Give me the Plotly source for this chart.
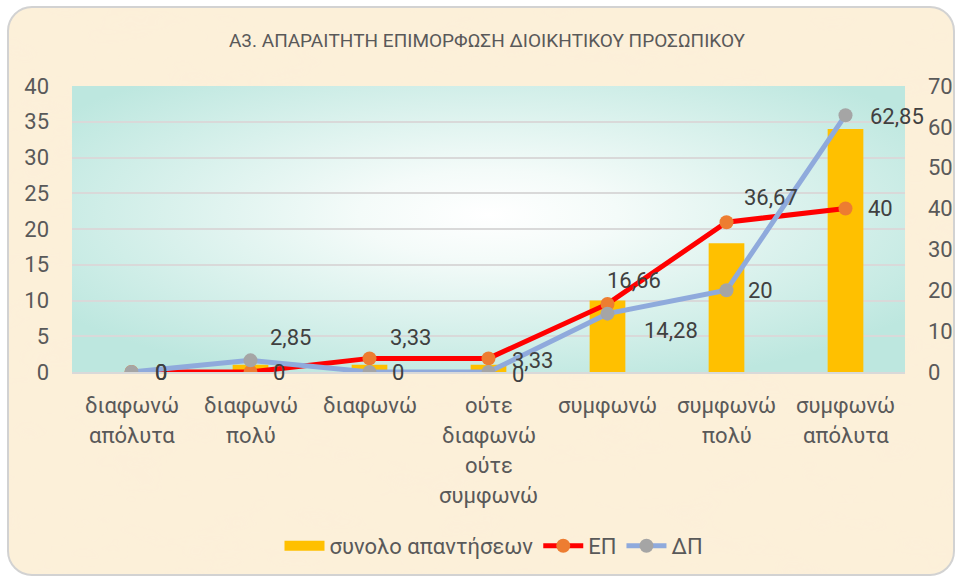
import base64
import plotly.graph_objects as go

# ---- data ----
categories = ["διαφωνώ απόλυτα", "διαφωνώ πολύ", "διαφωνώ", "ούτε διαφωνώ ούτε συμφωνώ",
              "συμφωνώ", "συμφωνώ πολύ", "συμφωνώ απόλυτα"]
category_lines = [["διαφωνώ", "απόλυτα"], ["διαφωνώ", "πολύ"], ["διαφωνώ"],
                  ["ούτε", "διαφωνώ", "ούτε", "συμφωνώ"], ["συμφωνώ"],
                  ["συμφωνώ", "πολύ"], ["συμφωνώ", "απόλυτα"]]
total_answers = [0, 1, 1, 1, 10, 18, 34]
ep_values = [0, 0, 3.33, 3.33, 16.66, 36.67, 40]
dp_values = [0, 2.85, 0, 0, 14.28, 20, 62.85]
title_text = "Α3. ΑΠΑΡΑΙΤΗΤΗ ΕΠΙΜΟΡΦΩΣΗ ΔΙΟΙΚΗΤΙΚΟΥ ΠΡΟΣΩΠΙΚΟΥ"
series_names = ["συνολο απαντήσεων", "ΕΠ", "ΔΠ"]

# label offsets (styling)
ep_shift = [(29, 0), (28, 0), (41, 21), (44, -2), (26, 23), (44, 25), (35, 0)]
dp_shift = [(29, 0), (40, 23), (28, 0), (29, -2), (63, -17), (34, 0), (51, -1)]

W, H = 959, 579
L, R, T, B = 72, 54, 86, 207
PW, PH = W - L - R, H - T - B

FONT = "Roboto"
TXT = "#595959"
LBL = "#404040"


def fmt(v):
    return f"{v:g}".replace(".", ",")


bg_svg = f'''<svg xmlns="http://www.w3.org/2000/svg" width="{W}" height="{H}" viewBox="0 0 {W} {H}">
<defs>
<filter id="n" x="0" y="0" width="100%" height="100%">
<feTurbulence type="fractalNoise" baseFrequency="0.012 0.03" numOctaves="3" seed="7" result="noise"/>
<feColorMatrix in="noise" type="matrix" values="0 0 0 0 0.97  0 0 0 0 0.86  0 0 0 0 0.70  0 0 0 1.2 -0.45" result="c"/>
<feComposite in="c" in2="SourceGraphic" operator="in"/>
</filter>
</defs>
<rect x="8" y="7" width="946" height="568" rx="24" ry="24" fill="#FCF0D9"/>
<rect x="8" y="7" width="946" height="568" rx="24" ry="24" fill="#000" filter="url(#n)"/>
<rect x="8" y="7" width="946" height="568" rx="24" ry="24" fill="none" stroke="#D2D2D2" stroke-width="2"/>
</svg>'''

grad_svg = f'''<svg xmlns="http://www.w3.org/2000/svg" width="{PW}" height="{PH}" viewBox="0 0 {PW} {PH}" preserveAspectRatio="none">
<defs>
<radialGradient id="g" cx="0.5" cy="0.45" r="0.62">
<stop offset="0" stop-color="#FFFFFF"/>
<stop offset="0.25" stop-color="#F4FBF9"/>
<stop offset="1" stop-color="#BDE7DF"/>
</radialGradient>
</defs>
<rect x="0" y="0" width="{PW}" height="{PH}" fill="url(#g)"/>
</svg>'''


def uri(s):
    return "data:image/svg+xml;base64," + base64.b64encode(s.encode("utf-8")).decode()


fig = go.Figure()
fig.add_trace(go.Bar(x=categories, y=total_answers, name=series_names[0], showlegend=False,
                     legendgroup="bars", marker=dict(color="#FFC000", line=dict(width=0)), yaxis="y"))
# legend proxy for the bar series (wide swatch, like the original)
fig.add_trace(go.Scatter(x=[None], y=[None], name=series_names[0], mode="lines", legendgroup="bars",
                         line=dict(color="#FFC000", width=13), yaxis="y", hoverinfo="skip"))
fig.add_trace(go.Scatter(x=categories, y=ep_values, name=series_names[1], mode="lines+markers",
                         line=dict(color="#FF0000", width=5),
                         marker=dict(color="#ED7D31", size=14), yaxis="y2"))
fig.add_trace(go.Scatter(x=categories, y=dp_values, name=series_names[2], mode="lines+markers",
                         line=dict(color="#8FAADC", width=5),
                         marker=dict(color="#A5A5A5", size=14), yaxis="y2"))

annotations = []
# category labels, one annotation per line
for cat, lines in zip(categories, category_lines):
    for i, ln in enumerate(lines):
        annotations.append(dict(x=cat, xref="x", y=0, yref="paper", text=ln, showarrow=False,
                                yanchor="middle", xanchor="center", yshift=-(33 + 30 * i),
                                font=dict(family=FONT, size=22, color=TXT)))
# data labels
for vals, shifts in ((ep_values, ep_shift), (dp_values, dp_shift)):
    for cat, v, (dx, dy) in zip(categories, vals, shifts):
        annotations.append(dict(x=cat, xref="x", y=v, yref="y2", text=fmt(v), showarrow=False,
                                xanchor="center", yanchor="middle", xshift=dx, yshift=dy,
                                font=dict(family=FONT, size=22, color=LBL)))

fig.update_layout(
    width=W, height=H,
    margin=dict(l=L, r=R, t=T, b=B, autoexpand=False),
    paper_bgcolor="#FFFFFF",
    plot_bgcolor="rgba(0,0,0,0)",
    font=dict(family=FONT, color=TXT),
    title=dict(text=title_text, x=487 / W, xanchor="center", y=1 - 40 / H, yanchor="middle",
               font=dict(family=FONT, size=19, color=TXT)),
    bargap=0.7,
    showlegend=True,
    legend=dict(orientation="h", x=(494 - L) / PW, xanchor="center",
                y=-(546 - (H - B)) / PH, yanchor="middle",
                font=dict(family=FONT, size=22, color=TXT), bgcolor="rgba(0,0,0,0)",
                itemwidth=40, traceorder="normal"),
    xaxis=dict(type="category", range=[-0.5, 6.5], showticklabels=False, showgrid=False,
               showline=True, linecolor="#D9D9D9", linewidth=1.5, zeroline=False, fixedrange=True),
    yaxis=dict(range=[0, 40], dtick=5, showgrid=True, gridcolor="#D9D9D9", gridwidth=1.5,
               zeroline=False, showline=False, ticks="", ticklabelstandoff=22,
               tickfont=dict(family=FONT, size=22, color=TXT)),
    yaxis2=dict(range=[0, 70], dtick=10, overlaying="y", side="right", showgrid=False,
                zeroline=False, showline=False, ticks="", ticklabelstandoff=22,
                tickfont=dict(family=FONT, size=22, color=TXT)),
    annotations=annotations,
    images=[
        dict(source=uri(bg_svg), xref="paper", yref="paper", x=-L / PW, y=1 + T / PH,
             sizex=W / PW, sizey=H / PH, sizing="stretch", xanchor="left", yanchor="top",
             layer="below"),
        dict(source=uri(grad_svg), xref="paper", yref="paper", x=0, y=1, sizex=1, sizey=1,
             sizing="stretch", xanchor="left", yanchor="top", layer="below"),
    ],
)

fig.write_html("out.html", config={"displayModeBar": False},
               post_script="document.body.style.margin='0';document.body.style.padding='0';")
